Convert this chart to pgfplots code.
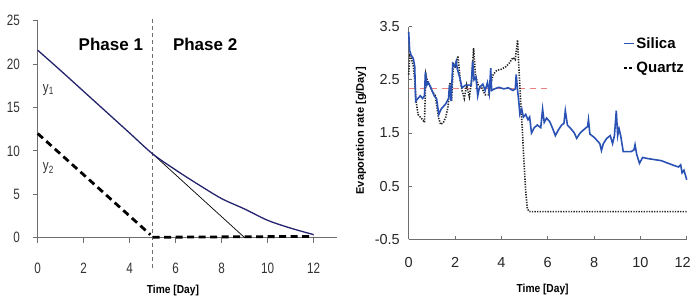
\documentclass[border=0pt]{standalone}
\usepackage{fontspec}
\setmainfont{Liberation Sans}
\newfontfamily\narrowfont[FakeStretch=0.78]{Liberation Sans}
\newfontfamily\semifont[FakeStretch=0.88]{Liberation Sans}
\usepackage{pgfplots}
\pgfplotsset{compat=1.18}
\definecolor{navy}{HTML}{24246E}
\definecolor{silica}{HTML}{2A52B4}
\definecolor{redd}{RGB}{235,130,130}
\definecolor{axgray}{HTML}{6E6E6E}
\begin{document}
\begin{tikzpicture}
\useasboundingbox (0,0) rectangle (692pt,296pt);
% ---------------- left
\begin{axis}[
  at={(37.7pt,58.3pt)}, anchor=south west,
  scale only axis, width=299pt, height=217pt,
  xmin=0, xmax=13, ymin=0, ymax=25,
  axis x line=bottom, axis y line=left,
  axis line style={-, axgray, line width=1.2pt},
  xtick={0,2,...,12}, ytick={0,5,...,25},
  tick align=outside, major tick length=5pt,
  tick style={axgray, line width=1pt},
  /pgf/number format/assume math mode=true,
  ticklabel style={font=\narrowfont\fontsize{15}{17}\selectfont, text=black!80, inner sep=0pt},
  xticklabel style={anchor=base, yshift=-31pt},
  yticklabel style={anchor=east, xshift=-12.7pt},
  xlabel={Time [Day]},
  xlabel style={at={(axis cs:5.88,-6.03)}, anchor=center, font=\semifont\bfseries\fontsize{11.6}{13}\selectfont},
  clip=false,
]
\addplot[axgray, line width=0.9pt, dash pattern=on 4pt off 3pt] coordinates {(5,25.2) (5,-3.6)};
\addplot[black, line width=0.7pt] coordinates {(5,9.65) (9,0)};
\addplot[navy, line width=1.3pt, smooth] coordinates {(0,21.6) (1,19.25) (2,16.85) (3,14.45) (4,12.05) (5,9.65) (6,7.8) (7,6.1) (8,4.5) (9,3.3) (10,2.0) (11,1.1) (12,0.35)};
\addplot[black, line width=2.8pt, dash pattern=on 7pt off 4.5pt] coordinates {(0,12) (4.9,0.35)};
\addplot[black, line width=2.8pt, dash pattern=on 7pt off 4.5pt] coordinates {(5,0.05) (12,0.15)};
\node[anchor=center, font=\bfseries\fontsize{17}{19}\selectfont] at (axis cs:3.18,22.3) {Phase 1};
\node[anchor=center, font=\bfseries\fontsize{17}{19}\selectfont] at (axis cs:7.28,22.3) {Phase 2};
\node[anchor=west, inner sep=0pt, font=\narrowfont\fontsize{15}{17}\selectfont, text=black!80] at (axis cs:0.22,17.0) {y\textsubscript{1}};
\node[anchor=west, inner sep=0pt, font=\narrowfont\fontsize{15}{17}\selectfont, text=black!80] at (axis cs:0.22,8.0) {y\textsubscript{2}};
\end{axis}
% ---------------- right
\begin{axis}[
  at={(408.7pt,56.7pt)}, anchor=south west,
  scale only axis, width=278pt, height=212.6pt,
  xmin=0, xmax=12, ymin=-0.5, ymax=3.5,
  axis x line=bottom, axis y line=left,
  axis line style={-, axgray, line width=1.2pt},
  xtick={0,2,...,12}, ytick={-0.5,0.5,1.5,2.5,3.5},
  xticklabels={0,2,4,6,8,10,{\kern-8pt 12}},
  yticklabels={-0.5,0.5,1.5,2.5,3.5},
  tick align=inside, major tick length=3pt,
  tick style={axgray, line width=0.8pt},
  /pgf/number format/assume math mode=true,
  ticklabel style={font=\fontsize{14.5}{16}\selectfont, text=black!85, inner sep=0pt},
  xticklabel style={anchor=base, yshift=-28pt},
  yticklabel style={anchor=east, xshift=-8.7pt},
  xlabel={Time [Day]},
  xlabel style={at={(axis cs:5.78,-1.452)}, anchor=center, font=\semifont\bfseries\fontsize{11.6}{13}\selectfont},
  ylabel={Evaporation rate [g/Day]},
  ylabel style={at={(axis cs:-2.06,1.54)}, anchor=center, font=\bfseries\fontsize{11}{13}\selectfont},
  clip=false,
  legend style={at={(rel axis cs:0.77,0.958)}, anchor=north west, draw=none, fill=none,
    font=\bfseries\fontsize{15}{17}\selectfont, inner sep=0pt, row sep=9pt,
    nodes={inner sep=1.5pt}},
  legend cell align=left,
  legend image code/.code={\draw[#1] (0pt,0pt) -- (10pt,0pt);},
]
\addplot[redd, line width=1pt, dash pattern=on 6pt off 5pt, forget plot] coordinates {(0,2.33) (6.1,2.33)};
\addplot[black!85, line width=1.6pt, dash pattern=on 1.3pt off 1.3pt, forget plot] coordinates {
(0,2.6) (0.05,2.95) (0.12,2.9) (0.2,2.75) (0.26,2.5) (0.32,2.1) (0.4,1.85) (0.5,1.8) (0.6,1.75) (0.68,1.7) (0.74,2.6) (0.82,2.45) (0.9,2.4) (1.0,2.3) (1.15,2.2) (1.28,1.8) (1.38,1.66) (1.5,1.7) (1.6,1.8) (1.7,2.0) (1.78,2.45) (1.85,2.1) (1.93,2.8) (2.02,2.75) (2.13,2.95) (2.22,2.5) (2.3,2.3) (2.4,2.15) (2.5,2.4) (2.62,2.18) (2.72,2.5) (2.8,3.1) (2.88,2.6) (3.0,2.4) (3.15,2.35) (3.3,2.22) (3.45,2.22) (3.55,2.45) (3.65,2.6) (3.8,2.68) (4.0,2.7) (4.2,2.75) (4.35,2.82) (4.5,2.92) (4.6,2.88) (4.7,3.25) (4.76,2.7) (4.83,2.1) (4.9,1.6) (4.97,1.0) (5.05,0.4) (5.12,0.08) (5.2,0.02) (6,0.02) (7,0.02) (8,0.02) (9,0.02) (10,0.02) (11,0.02) (12,0.02)};
\addplot[silica, line width=1.6pt, forget plot] coordinates {
(0,3.4) (0.04,3.05) (0.1,2.97) (0.2,2.9) (0.26,2.75) (0.3,2.1) (0.4,2.15) (0.5,2.2) (0.6,2.15) (0.68,2.2) (0.72,2.65) (0.78,2.4) (0.85,2.45) (0.96,2.35) (1.1,2.2) (1.2,2.15) (1.3,1.85) (1.4,1.95) (1.5,2.0) (1.6,2.05) (1.72,2.15) (1.76,2.4) (1.83,2.1) (1.9,2.8) (1.98,2.75) (2.05,2.85) (2.1,2.7) (2.2,2.55) (2.3,2.35) (2.45,2.4) (2.6,2.4) (2.7,2.4) (2.76,2.85) (2.82,2.5) (2.9,2.55) (2.98,2.2) (3.05,2.35) (3.2,2.42) (3.3,2.3) (3.4,2.45) (3.48,2.25) (3.54,2.72) (3.58,2.3) (3.7,2.33) (3.9,2.36) (4.1,2.33) (4.3,2.35) (4.5,2.3) (4.6,2.33) (4.64,2.6) (4.7,2.3) (4.75,2.1) (4.8,1.85) (4.88,1.95) (4.95,1.8) (5.05,1.85) (5.15,1.75) (5.22,1.8) (5.3,1.5) (5.42,1.6) (5.55,1.65) (5.7,1.6) (5.78,1.95) (5.85,1.7) (5.95,1.78) (6.08,1.72) (6.2,1.6) (6.33,1.45) (6.45,1.55) (6.6,1.65) (6.7,1.68) (6.76,1.92) (6.85,1.65) (7.0,1.58) (7.15,1.5) (7.25,1.4) (7.4,1.5) (7.6,1.58) (7.72,1.62) (7.76,1.75) (7.82,1.48) (8.0,1.42) (8.15,1.35) (8.25,1.3) (8.32,1.17) (8.4,1.3) (8.55,1.4) (8.7,1.45) (8.8,1.3) (8.88,1.45) (8.96,1.92) (9.02,1.45) (9.08,1.58) (9.15,1.45) (9.26,1.15) (9.4,1.15) (9.6,1.15) (9.72,1.18) (9.77,1.28) (9.84,1.1) (9.96,0.93) (10.1,1.04) (10.3,1.02) (10.6,1.0) (10.9,0.98) (11.2,0.93) (11.45,0.89) (11.65,0.86) (11.74,0.9) (11.8,0.75) (11.88,0.8) (11.95,0.7) (12.0,0.62)};
\addlegendimage{silica, line width=1.3pt}
\addlegendentry{Silica}
\addlegendimage{black, line width=2pt, dash pattern=on 3pt off 2pt}
\addlegendentry{Quartz}
\end{axis}
\end{tikzpicture}
\end{document}
